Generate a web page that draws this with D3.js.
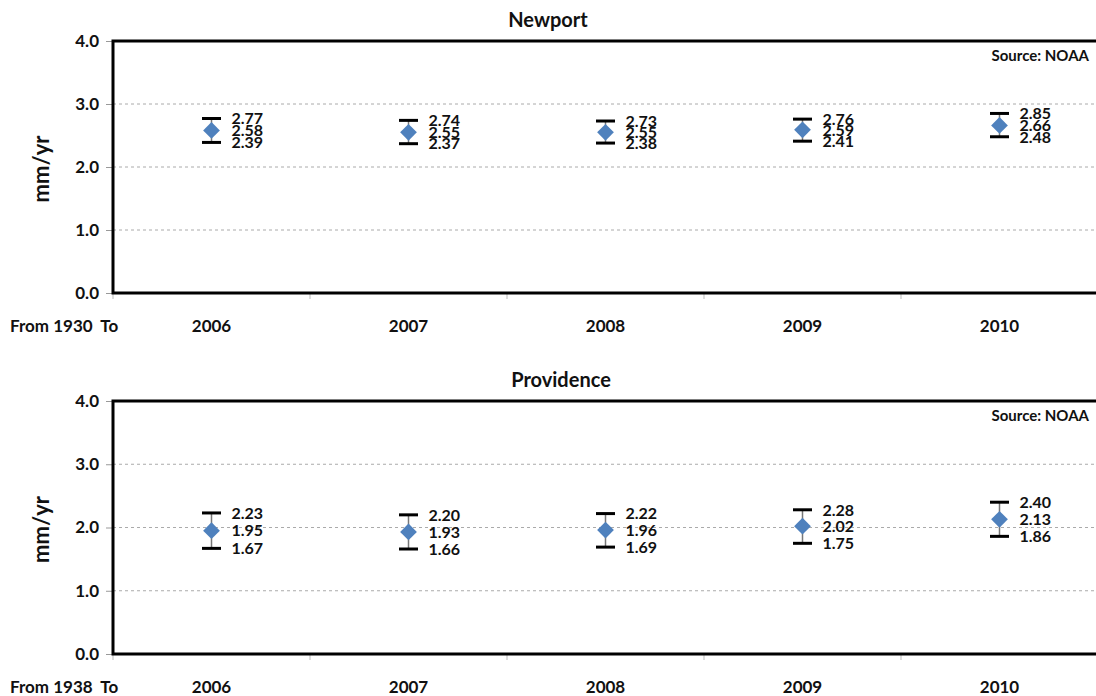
<!DOCTYPE html>
<html>
<head>
<meta charset="utf-8">
<script src="https://cdn.jsdelivr.net/npm/d3@7.9.0/dist/d3.min.js"></script>
<style>
  body { margin: 0; background: #fff; }
  svg { display: block; font-family: Lato, "Open Sans", sans-serif; font-weight: 700; }
</style>
</head>
<body>
<svg id="chart" width="1096" height="696"></svg>
<script>
const years = ['2006', '2007', '2008', '2009', '2010'];
const yTicks = [0, 1, 2, 3, 4];

const newportHigh = [2.77, 2.74, 2.73, 2.76, 2.85];
const newportMid = [2.58, 2.55, 2.55, 2.59, 2.66];
const newportLow = [2.39, 2.37, 2.38, 2.41, 2.48];

const provHigh = [2.23, 2.20, 2.22, 2.28, 2.40];
const provMid = [1.95, 1.93, 1.96, 2.02, 2.13];
const provLow = [1.67, 1.66, 1.69, 1.75, 1.86];

const svg = d3.select('#chart');

function drawPanel(opts) {
  const { title, titleX, fromLabel, high, mid, low, top, bottom, titleY } = opts;
  const left = 113, right = 1098;
  const g = svg.append('g');

  const x = d3.scaleBand().domain(years).range([left, right]);
  const y = d3.scaleLinear().domain([0, 4]).range([bottom, top]);

  // title
  g.append('text')
    .attr('x', titleX).attr('y', titleY)
    .attr('text-anchor', 'middle')
    .attr('font-size', 20).attr('fill', '#111')
    .text(title);

  // dashed gridlines
  g.selectAll('.grid')
    .data(yTicks.filter(d => d > 0 && d < 4))
    .enter().append('line')
    .attr('x1', left).attr('x2', right)
    .attr('y1', d => y(d)).attr('y2', d => y(d))
    .attr('stroke', '#aaa').attr('stroke-width', 1)
    .attr('stroke-dasharray', '3,3');

  // y axis
  const yAxis = d3.axisLeft(y).tickValues(yTicks).tickFormat(d3.format('.1f')).tickSize(7).tickPadding(7);
  const ya = g.append('g').attr('transform', `translate(${left},0)`).call(yAxis);
  ya.select('.domain').remove();
  ya.selectAll('.tick line').attr('stroke', '#999');
  ya.selectAll('.tick text').attr('font-size', 17).attr('fill', '#111')
    .attr('font-family', 'Lato, sans-serif').attr('font-weight', 700);

  // x axis ticks (between categories)
  const xa = g.append('g').attr('transform', `translate(0,${bottom})`);
  xa.selectAll('line')
    .data(years.map(d => x(d)).concat([right]))
    .enter().append('line')
    .attr('x1', d => d).attr('x2', d => d)
    .attr('y1', 0).attr('y2', 6)
    .attr('stroke', '#bbb');
  xa.selectAll('text')
    .data(years)
    .enter().append('text')
    .attr('x', d => x(d) + x.bandwidth() / 2)
    .attr('y', 39)
    .attr('text-anchor', 'middle')
    .attr('font-size', 17).attr('fill', '#111')
    .text(d => d);
  xa.append('text')
    .attr('x', 10).attr('y', 39)
    .attr('font-size', 17).attr('fill', '#111')
    .attr('xml:space', 'preserve')
    .text(fromLabel);

  // plot frame
  g.append('path')
    .attr('d', `M${right},${top}H${left}V${bottom}H${right}`)
    .attr('fill', 'none').attr('stroke', '#000').attr('stroke-width', 3);

  // y label
  g.append('text')
    .attr('transform', `translate(49,${(top + bottom) / 2 + 2}) rotate(-90)`)
    .attr('text-anchor', 'middle')
    .attr('font-size', 22).attr('fill', '#111')
    .text('mm/yr');

  // source
  g.append('text')
    .attr('x', 1089).attr('y', top + 20)
    .attr('text-anchor', 'end')
    .attr('font-size', 15).attr('fill', '#111')
    .text('Source: NOAA');

  // error bars
  const pts = years.map((yr, i) => ({ yr, hi: high[i], mid: mid[i], lo: low[i] }));
  const cx = d => x(d.yr) + x.bandwidth() / 2;
  const bars = g.selectAll('.bar').data(pts).enter().append('g');
  bars.append('line')
    .attr('x1', cx).attr('x2', cx)
    .attr('y1', d => y(d.hi)).attr('y2', d => y(d.lo))
    .attr('stroke', '#777').attr('stroke-width', 1.5);
  ['hi', 'lo'].forEach(k => {
    bars.append('line')
      .attr('x1', d => cx(d) - 9.5).attr('x2', d => cx(d) + 9.5)
      .attr('y1', d => y(d[k])).attr('y2', d => y(d[k]))
      .attr('stroke', '#000').attr('stroke-width', 3);
  });
  bars.append('path')
    .attr('d', d3.symbol().type(d3.symbolSquare).size(140))
    .attr('transform', d => `translate(${cx(d)},${y(d.mid)}) rotate(45)`)
    .attr('fill', '#4F81BD');
  ['hi', 'mid', 'lo'].forEach(k => {
    bars.append('text')
      .attr('x', d => cx(d) + 20)
      .attr('y', d => y(d[k]))
      .attr('dy', '0.36em')
      .attr('font-size', 16).attr('fill', '#111')
      .text(d => d[k].toFixed(2));
  });
}

drawPanel({ title: 'Newport', titleX: 548, fromLabel: 'From 1930  To', high: newportHigh, mid: newportMid, low: newportLow,
  top: 41, bottom: 293, titleY: 27 });
drawPanel({ title: 'Providence', titleX: 561, fromLabel: 'From 1938  To', high: provHigh, mid: provMid, low: provLow,
  top: 401, bottom: 654, titleY: 387 });
</script>
</body>
</html>
